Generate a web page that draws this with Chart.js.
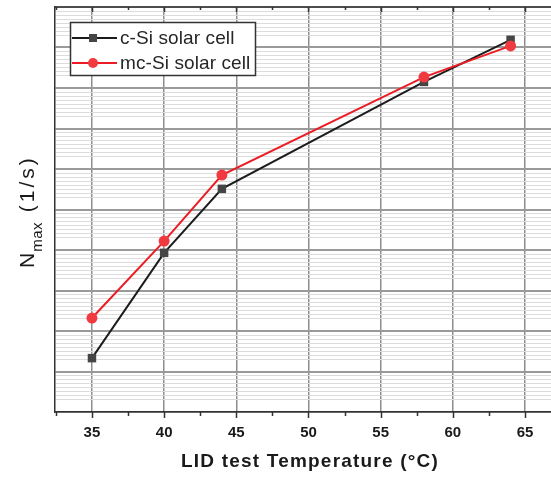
<!DOCTYPE html>
<html>
<head>
<meta charset="utf-8">
<script src="https://cdn.jsdelivr.net/npm/chart.js@4/dist/chart.umd.min.js"></script>
<style>
  html, body { margin: 0; padding: 0; background: #ffffff; }
  #c { display: block; }
</style>
</head>
<body>
<canvas id="c" width="551" height="479"></canvas>
<script>
// ---- data (y in arbitrary units, axis has no labels) ----
const temperatures = [35, 40, 44, 58, 64];
const cSiValues  = [1.33, 3.93, 5.51, 8.15, 9.19];
const mcSiValues = [2.32, 4.22, 5.85, 8.27, 9.04];
const seriesLabels = ['c-Si solar cell', 'mc-Si solar cell'];
const xTickLabels = [35, 40, 45, 50, 55, 60, 65];
const xMinorTicks = [32.5, 37.5, 42.5, 47.5, 52.5, 57.5, 62.5];
const xTitle = 'LID test Temperature (°C)';
const yTitleMain = 'N';
const yTitleSub = 'max';
const yTitleUnit = ' (1/s)';

const FONT = "'Liberation Sans', Arial, Helvetica, sans-serif";
const AXIS_COLOR = '#333333';
const BLACK_LINE = '#1c1c1c';
const SQUARE_FILL = '#454545';
const RED_LINE = '#ec1c24';
const RED_FILL = '#f03a3f';

function toPoints(xs, ys) { return xs.map((x, i) => ({ x: x, y: ys[i] })); }

const decorPlugin = {
  id: 'decor',
  afterDraw(chart) {
    const ctx = chart.ctx;
    const xs = chart.scales.x;
    const area = chart.chartArea;
    ctx.save();
    // top frame line
    ctx.strokeStyle = AXIS_COLOR;
    ctx.lineWidth = 1.5;
    ctx.beginPath();
    ctx.moveTo(area.left, area.top);
    ctx.lineTo(area.right, area.top);
    ctx.stroke();
    // tick marks bottom (outward) and top (inward)
    const drawTick = (v, lenB, lenT) => {
      const px = Math.round(xs.getPixelForValue(v)) + 0.5;
      if (px < area.left - 1 || px > area.right + 1) return;
      ctx.beginPath();
      ctx.moveTo(px, area.bottom);
      ctx.lineTo(px, area.bottom + lenB);
      ctx.moveTo(px, area.top);
      ctx.lineTo(px, area.top + lenT);
      ctx.stroke();
    };
    xTickLabels.forEach(v => drawTick(v, 6, 5));
    xMinorTicks.forEach(v => drawTick(v, 4, 3));

    // x title
    ctx.fillStyle = '#1a1a1a';
    ctx.font = 'bold 19px ' + FONT;
    ctx.letterSpacing = '1.2px';
    ctx.textAlign = 'center';
    ctx.textBaseline = 'alphabetic';
    ctx.fillText(xTitle, 310, 467);
    ctx.letterSpacing = '0px';

    // y title (rotated, with subscript)
    ctx.save();
    ctx.translate(34, 268);
    ctx.rotate(-Math.PI / 2);
    ctx.textAlign = 'left';
    ctx.textBaseline = 'alphabetic';
    ctx.fillStyle = '#1a1a1a';
    ctx.font = '21px ' + FONT;
    ctx.fillText(yTitleMain, 0, 0);
    let w = ctx.measureText(yTitleMain).width;
    ctx.font = '15px ' + FONT;
    ctx.letterSpacing = '0.5px';
    ctx.fillText(yTitleSub, w + 1, 8);
    w += 1 + ctx.measureText(yTitleSub).width;
    ctx.font = '21px ' + FONT;
    ctx.letterSpacing = '3px';
    ctx.fillText(yTitleUnit, w + 1, 0);
    ctx.letterSpacing = '0px';
    ctx.restore();

    // legend
    const lx = 70, ly = 22, lw = 185, lh = 53;
    ctx.fillStyle = '#ffffff';
    ctx.fillRect(lx, ly, lw, lh);
    ctx.strokeStyle = AXIS_COLOR;
    ctx.lineWidth = 1.5;
    ctx.strokeRect(lx + 0.5, ly + 0.5, lw, lh);
    const ds = chart.data.datasets;
    const rows = [38, 63];
    ds.forEach((d, i) => {
      const y = rows[i];
      ctx.strokeStyle = d.borderColor;
      ctx.lineWidth = 2;
      ctx.beginPath();
      ctx.moveTo(lx + 2, y);
      ctx.lineTo(lx + 47, y);
      ctx.stroke();
      ctx.fillStyle = d.pointBackgroundColor;
      if (d.pointStyle === 'rect') {
        ctx.fillRect(lx + 23 - 4, y - 4, 8, 8);
      } else {
        ctx.beginPath();
        ctx.arc(lx + 23, y, 5, 0, Math.PI * 2);
        ctx.fill();
      }
      ctx.fillStyle = '#262626';
      ctx.font = '19px ' + FONT;
      ctx.letterSpacing = '0.1px';
      ctx.textAlign = 'left';
      ctx.textBaseline = 'middle';
      ctx.fillText(d.label, lx + 50, y + 1);
      ctx.letterSpacing = '0px';
    });
    ctx.restore();
  }
};

new Chart(document.getElementById('c'), {
  type: 'line',
  data: {
    datasets: [
      {
        label: seriesLabels[0],
        data: toPoints(temperatures, cSiValues),
        borderColor: BLACK_LINE,
        borderWidth: 2,
        pointStyle: 'rect',
        pointRadius: 6,
        pointBackgroundColor: SQUARE_FILL,
        pointBorderColor: SQUARE_FILL,
        pointBorderWidth: 0,
        tension: 0,
        order: 1
      },
      {
        label: seriesLabels[1],
        data: toPoints(temperatures, mcSiValues),
        borderColor: RED_LINE,
        borderWidth: 2,
        pointStyle: 'circle',
        pointRadius: 5.5,
        pointBackgroundColor: RED_FILL,
        pointBorderColor: RED_FILL,
        pointBorderWidth: 0,
        tension: 0,
        order: 0
      }
    ]
  },
  options: {
    responsive: false,
    animation: false,
    devicePixelRatio: 1,
    layout: { autoPadding: false, padding: { top: 7, left: 0, right: 0, bottom: 0 } },
    plugins: { legend: { display: false }, tooltip: { enabled: false } },
    scales: {
      x: {
        type: 'linear',
        min: 32.44,
        max: 66.8,
        afterFit(scale) { scale.height = 67; scale.paddingRight = 0; scale.paddingLeft = 0; },
        afterBuildTicks(scale) { scale.ticks = xTickLabels.map(v => ({ value: v })); },
        ticks: {
          padding: 12,
          color: '#1a1a1a',
          font: { family: FONT, size: 15, weight: 'bold' },
          callback: (v) => String(v),
          maxRotation: 0,
          autoSkip: false
        },
        grid: { color: '#8e8e8e', lineWidth: 1.5, drawTicks: false },
        border: { display: true, color: AXIS_COLOR, width: 1.5 }
      },
      y: {
        type: 'linear',
        min: 0,
        max: 10,
        afterFit(scale) { scale.width = 55; scale.paddingTop = 0; scale.paddingBottom = 0; },
        afterBuildTicks(scale) {
          const t = [];
          for (let k = 0; k <= 10; k++) {
            t.push({ value: k, kind: 'major' });
            if (k > 0) {
              for (let j = 1; j <= 7; j++) t.push({ value: k - j * 0.1, kind: 'minor' });
            }
          }
          scale.ticks = t;
        },
        ticks: { display: false },
        grid: {
          drawTicks: false,
          color: (c) => (c.tick && c.tick.kind === 'minor') ? '#dcdcdc' : '#9a9a9a',
          lineWidth: (c) => (c.tick && c.tick.kind === 'minor') ? 1 : 2
        },
        border: { display: true, color: AXIS_COLOR, width: 1.5 }
      }
    }
  },
  plugins: [decorPlugin]
});
</script>
</body>
</html>
